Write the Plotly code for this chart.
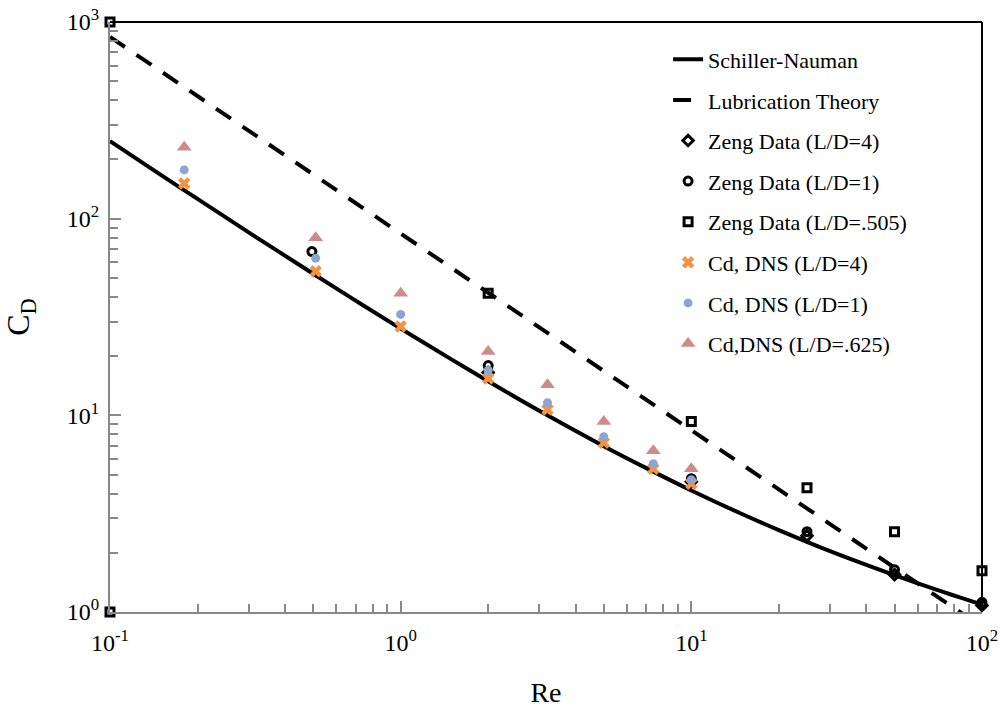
import plotly.graph_objects as go

# Schiller-Nauman curve
sn_re = [0.1, 0.15, 0.2, 0.3, 0.5, 0.7, 1, 1.5, 2, 3, 5, 7, 10, 15, 20, 30, 50, 70, 100]
sn_cd = [248, 166.5, 126, 85.2, 52.5, 38.3, 27.6, 19.2, 14.9, 10.55, 6.97, 5.39, 4.15, 3.14, 2.61, 2.04, 1.54, 1.295, 1.09]

# Lubrication theory (straight line in log-log)
lub_re = [0.1, 100]
lub_cd = [840, 0.84]

# Zeng data
z4_re = [2, 10, 25, 50, 100]
z4_cd = [16.5, 4.6, 2.44, 1.55, 1.08]
z1_re = [0.495, 2, 10, 25, 50, 100]
z1_cd = [68, 17.9, 4.76, 2.56, 1.64, 1.12]
z505_re = [0.1, 0.1, 2, 10, 25, 50, 100]
z505_cd = [1000, 1, 41.7, 9.3, 4.28, 2.56, 1.62]

# DNS data
dns_re = [0.18, 0.51, 1, 2, 3.2, 5, 7.4, 10]
dns4_cd = [151, 54, 28.3, 15.4, 10.7, 7.26, 5.35, 4.49]
dns1_cd = [177, 62.9, 32.6, 16.9, 11.6, 7.79, 5.67, 4.70]
dns625_cd = [231, 80, 41.7, 21.1, 14.3, 9.29, 6.61, 5.35]

fig = go.Figure()
fig.add_trace(go.Scatter(x=sn_re, y=sn_cd, mode="lines", name="Schiller-Nauman",
                         line=dict(color="black", width=4, shape="spline"), legendgroup="a"))
fig.add_trace(go.Scatter(x=lub_re, y=lub_cd, mode="lines", name="Lubrication Theory",
                         line=dict(color="black", width=4, dash="18px,14px"), legendgroup="b"))
fig.add_trace(go.Scatter(x=z4_re, y=z4_cd, mode="markers", name="Zeng Data (L/D=4)",
                         marker=dict(symbol="diamond-open", size=8, color="black", line=dict(width=3)),
                         legendgroup="c", cliponaxis=False))
fig.add_trace(go.Scatter(x=z1_re, y=z1_cd, mode="markers", name="Zeng Data (L/D=1)",
                         marker=dict(symbol="circle-open", size=8, color="black", line=dict(width=3)),
                         legendgroup="d", cliponaxis=False))
fig.add_trace(go.Scatter(x=z505_re, y=z505_cd, mode="markers", name="Zeng Data (L/D=.505)",
                         marker=dict(symbol="square-open", size=8, color="black", line=dict(width=3)),
                         legendgroup="e", cliponaxis=False))
fig.add_trace(go.Scatter(x=dns_re, y=dns4_cd, mode="markers", name="Cd, DNS (L/D=4)",
                         marker=dict(symbol="x", size=11, color="#F5923E", line=dict(width=0)),
                         legendgroup="f"))
fig.add_trace(go.Scatter(x=dns_re, y=dns1_cd, mode="markers", name="Cd, DNS (L/D=1)",
                         marker=dict(symbol="circle", size=9, color="#8CA5D3"),
                         legendgroup="g"))
fig.add_trace(go.Scatter(x=dns_re, y=dns625_cd, mode="markers", name="Cd,DNS (L/D=.625)",
                         marker=dict(symbol="triangle-up", size=13, color="#D18A8A"),
                         legendgroup="h"))

font_family = "Liberation Serif"

fig.update_layout(
    width=1000, height=708,
    margin=dict(l=110, r=18, t=22, b=96, autoexpand=False),
    plot_bgcolor="white", paper_bgcolor="white",
    font=dict(family=font_family, color="black"),
    showlegend=True,
    legend=dict(x=0.64, y=0.972, xanchor="left", yanchor="top",
                font=dict(size=22, family=font_family, color="black"),
                bgcolor="rgba(0,0,0,0)", tracegroupgap=9, traceorder="grouped"),
    xaxis=dict(type="log", range=[-1, 2], showgrid=False, zeroline=False, automargin=False,
               showline=True, linecolor="#888888", linewidth=2,
               ticks="inside", ticklen=11, tickcolor="#888888", tickwidth=1.5,
               ticklabelstandoff=8,
               tickvals=[0.1, 1, 10, 100],
               ticktext=["10<sup>-1</sup>", "10<sup>0</sup>", "10<sup>1</sup>", "10<sup>2</sup>"],
               tickfont=dict(size=24, family=font_family, color="black"),
               minor=dict(ticks="inside", ticklen=8, tickcolor="#888888", tickwidth=1.5,
                          tickvals=[0.2,0.3,0.4,0.5,0.6,0.7,0.8,0.9,2,3,4,5,6,7,8,9,20,30,40,50,60,70,80,90]),
               title=dict(text="Re", font=dict(size=28, family=font_family, color="black"), standoff=30)),
    yaxis=dict(type="log", range=[0, 3], showgrid=False, zeroline=False, automargin=False,
               showline=True, linecolor="#888888", linewidth=2,
               ticks="inside", ticklen=11, tickcolor="#888888", tickwidth=1.5,
               ticklabelstandoff=4,
               tickvals=[1, 10, 100, 1000],
               ticktext=["10<sup>0</sup>", "10<sup>1</sup>", "10<sup>2</sup>", "10<sup>3</sup>"],
               tickfont=dict(size=24, family=font_family, color="black"),
               minor=dict(ticks="inside", ticklen=8, tickcolor="#888888", tickwidth=1.5,
                          tickvals=[2,3,4,5,6,7,8,9,20,30,40,50,60,70,80,90,200,300,400,500,600,700,800,900]),
               title=dict(text="C<sub>D</sub>", font=dict(size=32, family=font_family, color="black"), standoff=28)),
    shapes=[
        dict(type="line", xref="paper", yref="paper", x0=0, x1=1, y0=1, y1=1,
             line=dict(color="black", width=2)),
        dict(type="line", xref="paper", yref="paper", x0=1, x1=1, y0=0, y1=1,
             line=dict(color="black", width=2)),
    ],
)

fig.write_html("out.html")
